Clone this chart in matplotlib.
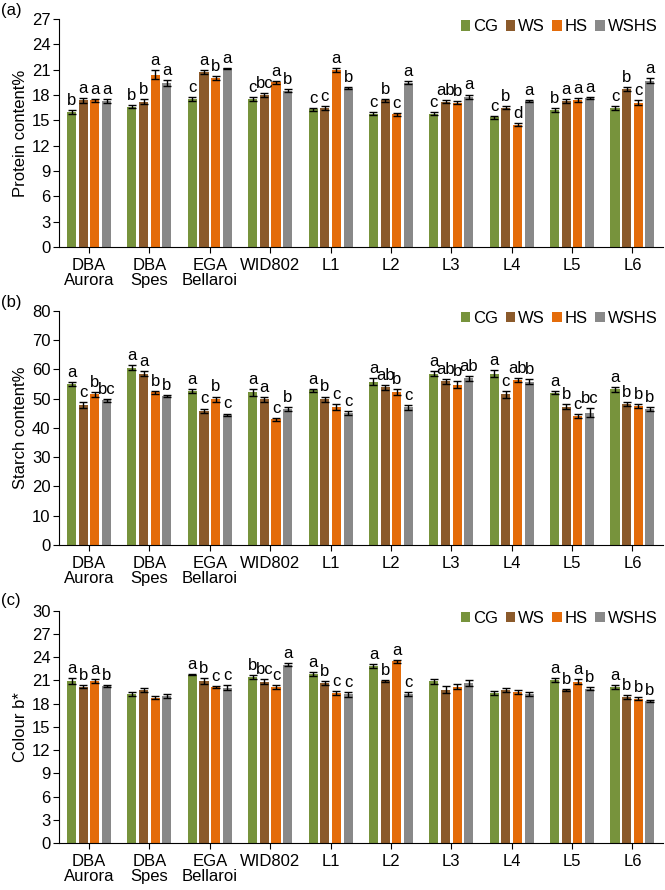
import numpy as np
import matplotlib
matplotlib.use("Agg")
import matplotlib.pyplot as plt
from matplotlib.patches import Patch

plt.rcParams["font.family"] = ["Liberation Sans", "DejaVu Sans"]

categories = ["DBA\nAurora", "DBA\nSpes", "EGA\nBellaroi", "WID802",
              "L1", "L2", "L3", "L4", "L5", "L6"]
treatments = ["CG", "WS", "HS", "WSHS"]
COLORS = ["#77933c", "#8b5a2b", "#e46c0a", "#898989"]

# (a) protein content %
protein_cg = [16.0, 16.6, 17.5, 17.5, 16.3, 15.8, 15.8, 15.35, 16.2, 16.45]
protein_ws = [17.35, 17.2, 20.7, 18.0, 16.45, 17.35, 17.2, 16.5, 17.3, 18.7]
protein_hs = [17.35, 20.4, 20.0, 19.5, 20.95, 15.7, 17.1, 14.5, 17.4, 17.1]
protein_wshs = [17.3, 19.45, 21.15, 18.5, 18.8, 19.45, 17.8, 17.3, 17.6, 19.7]
protein_err_cg = [0.2, 0.2, 0.25, 0.2, 0.2, 0.2, 0.2, 0.2, 0.2, 0.2]
protein_err_ws = [0.25, 0.3, 0.2, 0.25, 0.25, 0.15, 0.15, 0.15, 0.2, 0.2]
protein_err_hs = [0.15, 0.5, 0.2, 0.2, 0.2, 0.15, 0.2, 0.2, 0.2, 0.25]
protein_err_wshs = [0.2, 0.35, 0.05, 0.15, 0.15, 0.15, 0.25, 0.15, 0.1, 0.25]
protein_letters = [["b", "a", "a", "a"], ["b", "b", "a", "a"], ["c", "a", "b", "a"],
                   ["c", "bc", "a", "b"], ["c", "c", "a", "b"], ["c", "b", "c", "a"],
                   ["c", "ab", "b", "a"], ["c", "b", "d", "a"], ["b", "a", "a", "a"],
                   ["c", "b", "c", "a"]]

# (b) starch content %
starch_cg = [54.9, 60.6, 52.5, 52.1, 52.8, 55.8, 58.5, 58.5, 52.0, 53.2]
starch_ws = [47.9, 58.5, 45.8, 49.7, 49.8, 53.8, 55.9, 51.5, 47.2, 48.1]
starch_hs = [51.4, 52.1, 49.7, 42.9, 47.0, 52.3, 54.7, 56.3, 44.1, 47.4]
starch_wshs = [49.4, 51.0, 44.4, 46.4, 45.2, 47.0, 56.9, 55.8, 45.2, 46.3]
starch_err_cg = [0.6, 1.0, 0.7, 1.2, 0.5, 1.2, 0.8, 1.2, 0.5, 0.8]
starch_err_ws = [1.0, 0.8, 0.8, 0.7, 0.9, 0.8, 0.8, 1.2, 0.9, 0.8]
starch_err_hs = [0.7, 0.5, 1.0, 0.6, 1.0, 1.0, 1.2, 0.7, 0.6, 0.6]
starch_err_wshs = [0.5, 0.3, 0.5, 0.8, 0.7, 0.8, 0.8, 0.8, 1.5, 0.7]
starch_letters = [["a", "c", "b", "bc"], ["a", "a", "b", "b"], ["a", "c", "b", "c"],
                  ["a", "a", "c", "b"], ["a", "b", "c", "c"], ["a", "ab", "b", "c"],
                  ["a", "ab", "b", "ab"], ["a", "c", "ab", "b"], ["a", "b", "c", "bc"],
                  ["a", "b", "b", "b"]]

# (c) colour b*
colour_cg = [20.95, 19.25, 21.75, 21.4, 21.85, 22.9, 20.9, 19.4, 21.05, 20.15]
colour_ws = [20.2, 19.75, 20.95, 20.85, 20.65, 20.95, 19.8, 19.8, 19.75, 18.9]
colour_hs = [20.95, 18.75, 20.15, 20.15, 19.4, 23.45, 20.2, 19.55, 20.85, 18.65]
colour_wshs = [20.25, 19.0, 20.05, 23.05, 19.2, 19.25, 20.65, 19.2, 19.95, 18.35]
colour_err_cg = [0.35, 0.25, 0.1, 0.25, 0.25, 0.25, 0.3, 0.25, 0.3, 0.2]
colour_err_ws = [0.2, 0.25, 0.35, 0.3, 0.25, 0.15, 0.45, 0.25, 0.15, 0.25]
colour_err_hs = [0.25, 0.2, 0.15, 0.3, 0.25, 0.15, 0.3, 0.25, 0.3, 0.2]
colour_err_wshs = [0.1, 0.3, 0.3, 0.25, 0.3, 0.25, 0.35, 0.25, 0.15, 0.1]
colour_letters = [["a", "b", "a", "b"], ["", "", "", ""], ["a", "b", "c", "c"],
                  ["b", "bc", "c", "a"], ["a", "b", "c", "c"], ["a", "b", "a", "c"],
                  ["", "", "", ""], ["", "", "", ""], ["a", "b", "a", "b"],
                  ["a", "b", "b", "b"]]

FS = 12
BAR_STEP = 0.193
BAR_W = 0.15


def draw_panel(ax, series, errors, letters, ylabel, ymax, ystep):
    x = np.arange(len(categories))
    for i, (vals, errs) in enumerate(zip(series, errors)):
        pos = x + (i - 1.5) * BAR_STEP
        ax.bar(pos, vals, BAR_W, color=COLORS[i], zorder=2)
        ax.errorbar(pos, vals, yerr=errs, fmt="none", ecolor="black",
                    elinewidth=1.0, capsize=2.6, capthick=1.0, zorder=3)
        for j in range(len(categories)):
            lab = letters[j][i]
            if lab:
                ax.annotate(lab, (pos[j], vals[j] + errs[j]),
                            xytext=(0, 1.5), textcoords="offset points",
                            ha="center", va="bottom", fontsize=FS)

    ax.set_xlim(-0.5, len(categories) - 0.5)
    ax.set_ylim(0, ymax)
    ax.set_yticks(np.arange(0, ymax + 0.1, ystep))
    ax.set_xticks(x)
    ax.set_xticklabels(categories, fontsize=FS, linespacing=1.0)
    ax.tick_params(axis="y", labelsize=FS, length=4, width=0.8, pad=2)
    ax.tick_params(axis="x", length=4, width=0.8, pad=4)
    for side in ("top", "right"):
        ax.spines[side].set_visible(False)
    ax.spines["left"].set_linewidth(0.8)
    ax.spines["bottom"].set_linewidth(0.8)
    ax.set_ylabel(ylabel, fontsize=FS, labelpad=3)

    handles = [Patch(facecolor=c) for c in COLORS]
    ax.legend(handles, treatments, loc="upper right", bbox_to_anchor=(1.0, 1.02),
              ncol=4, frameon=False, fontsize=FS, handlelength=0.55,
              handleheight=0.55, handletextpad=0.2, columnspacing=0.45,
              borderaxespad=0.1, borderpad=0.2)


fig = plt.figure(figsize=(6.65, 8.9), dpi=100)

ax_a = fig.add_axes([0.0885, 0.7225, 0.908, 0.2562])
draw_panel(ax_a,
           [protein_cg, protein_ws, protein_hs, protein_wshs],
           [protein_err_cg, protein_err_ws, protein_err_hs, protein_err_wshs],
           protein_letters, "Protein content%", 27, 3)

ax_b = fig.add_axes([0.0885, 0.3876, 0.908, 0.2633])
draw_panel(ax_b,
           [starch_cg, starch_ws, starch_hs, starch_wshs],
           [starch_err_cg, starch_err_ws, starch_err_hs, starch_err_wshs],
           starch_letters, "Starch content%", 80, 10)

ax_c = fig.add_axes([0.0885, 0.0528, 0.908, 0.261])
draw_panel(ax_c,
           [colour_cg, colour_ws, colour_hs, colour_wshs],
           [colour_err_cg, colour_err_ws, colour_err_hs, colour_err_wshs],
           colour_letters, "Colour b*", 30, 3)

for tag, ypix in (("(a)", 10), ("(b)", 302), ("(c)", 601)):
    fig.text(0.001, 1 - ypix / 890, tag, fontsize=FS, ha="left", va="center")

fig.savefig("out.png", dpi=100)
